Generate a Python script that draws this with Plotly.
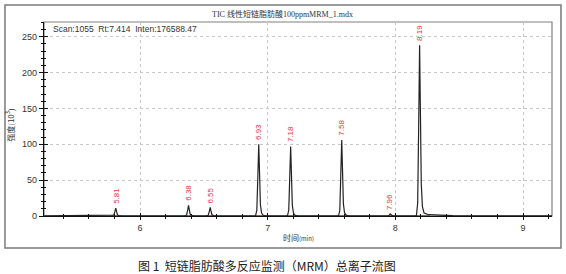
import plotly.graph_objects as go

# ---- data ----
time_min = [5.25,
            5.785, 5.795, 5.803, 5.81, 5.816, 5.823, 5.832, 5.845,
            6.355, 6.365, 6.373, 6.38, 6.386, 6.393, 6.402, 6.415,
            6.525, 6.535, 6.543, 6.55, 6.556, 6.563, 6.572, 6.585,
            6.905, 6.915, 6.923, 6.93, 6.936, 6.943, 6.952, 6.965, 6.98,
            7.155, 7.165, 7.173, 7.18, 7.186, 7.193, 7.202, 7.215, 7.23,
            7.555, 7.565, 7.573, 7.58, 7.586, 7.593, 7.602, 7.615, 7.63,
            7.945, 7.953, 7.96, 7.967, 7.978,
            8.165, 8.175, 8.183, 8.19, 8.196, 8.203, 8.212, 8.225, 8.26, 8.33, 8.45,
            9.23]
intensity = [0.3,
             0.3, 1.2, 6, 11, 6.5, 1.8, 0.6, 0.3,
             0.3, 1.5, 8, 15, 9, 2.5, 0.8, 0.3,
             0.3, 1.2, 6.5, 12, 7, 2, 0.6, 0.3,
             0.3, 8, 55, 100, 62, 16, 4, 1, 0.3,
             0.3, 8, 53, 97, 60, 15, 4, 1, 0.3,
             0.3, 8, 58, 106, 65, 17, 4.5, 1.2, 0.3,
             0.3, 1.5, 3, 1.6, 0.3,
             0.3, 18, 130, 238, 150, 45, 13, 4, 1.8, 1, 0.4,
             0.3]

peak_rt = [5.81, 6.38, 6.55, 6.93, 7.18, 7.58, 7.96, 8.19]
peak_height = [11, 15, 12, 100, 97, 106, 3, 238]
peak_label = ["5.81", "6.38", "6.55", "6.93", "7.18", "7.58", "7.96", "8.19"]
peak_start = [5.775, 6.345, 6.515, 6.895, 7.145, 7.545, 7.94, 8.155]
peak_end = [5.855, 6.425, 6.595, 6.99, 7.24, 7.64, 7.985, 8.27]

x_ticks = [6, 7, 8, 9]
y_ticks = [0, 50, 100, 150, 200, 250]
x_range = [5.248, 9.227]
y_range = [0, 270.5]

title_text = "TIC 线性短链脂肪酸100ppmMRM_1.mdx"
info_text = "Scan:1055  Rt:7.414  Inten:176588.47"
caption_text = "图 1  短链脂肪酸多反应监测（MRM）总离子流图"

RED = "#e8343c"

fig = go.Figure()

# integration baselines (red)
bx, by = [], []
for s, e in zip(peak_start, peak_end):
    bx += [s, e, None]
    by += [0.4, 0.4, None]
fig.add_trace(go.Scatter(x=bx, y=by, mode="lines",
                         line=dict(color=RED, width=1.3), hoverinfo="skip",
                         showlegend=False))

fig.add_trace(go.Scatter(x=time_min, y=intensity, mode="lines",
                         line=dict(color="#222222", width=1.2),
                         showlegend=False))

# invisible trace to anchor the overlay axes (inside ticks)
fig.add_trace(go.Scatter(x=[x_range[0]], y=[y_range[0]], xaxis="x2", yaxis="y2",
                         mode="markers", marker=dict(opacity=0), hoverinfo="skip",
                         showlegend=False))

for rt, h, lab in zip(peak_rt, peak_height, peak_label):
    fig.add_annotation(x=rt, y=h, text=lab, showarrow=False, textangle=-90,
                       xanchor="center", yanchor="bottom", yshift=2,
                       font=dict(family="Liberation Sans, Arial", size=8, color=RED))

axis_font = dict(family="Liberation Sans, Arial", size=9, color="#333333")

fig.update_layout(
    width=566, height=274,
    margin=dict(l=44, r=14, t=22, b=58),
    paper_bgcolor="white", plot_bgcolor="white",
    xaxis=dict(range=x_range, tickvals=x_ticks, showgrid=True, gridcolor="#c8c8c8",
               griddash="dot", gridwidth=1, zeroline=False, showline=True,
               linecolor="#111111", linewidth=1.3, ticks="outside", ticklen=3,
               tickcolor="#111111", tickfont=axis_font,
               minor=dict(dtick=0.2, tick0=6, ticks="outside", ticklen=2,
                          tickcolor="#111111", showgrid=False)),
    yaxis=dict(range=y_range, tickvals=y_ticks, showgrid=True, gridcolor="#c8c8c8",
               griddash="dot", gridwidth=1, zeroline=False, showline=True,
               linecolor="#111111", linewidth=1.3, ticks="outside", ticklen=4,
               tickcolor="#111111", tickfont=axis_font,
               minor=dict(dtick=10, tick0=0, ticks="outside", ticklen=2,
                          tickcolor="#111111", showgrid=False)),
    xaxis2=dict(range=x_range, overlaying="x", anchor="y", side="bottom",
                showgrid=False, zeroline=False, showticklabels=False,
                tickvals=x_ticks, ticks="inside", ticklen=3, tickcolor="#111111",
                minor=dict(dtick=0.2, tick0=6, ticks="inside", ticklen=2,
                           tickcolor="#111111")),
    yaxis2=dict(range=y_range, overlaying="y", anchor="x", side="left",
                showgrid=False, zeroline=False, showticklabels=False,
                tickvals=y_ticks, ticks="inside", ticklen=4, tickcolor="#111111",
                minor=dict(dtick=10, tick0=0, ticks="inside", ticklen=2,
                           tickcolor="#111111")),
)

# plot box (top/right gray) and outer frame
fig.add_shape(type="rect", xref="paper", yref="paper", x0=0, x1=1, y0=0, y1=1,
              line=dict(color="#808080", width=1.2), layer="below")
fig.add_shape(type="rect", xref="paper", yref="paper", x0=-0.0768, x1=1.0177,
              y0=-0.165, y1=1.0876, line=dict(color="#7a7a7a", width=1.5))

fig.add_annotation(xref="paper", yref="paper", x=0.47, y=1.041, text=title_text,
                   showarrow=False, xanchor="center", yanchor="middle",
                   font=dict(family="Liberation Serif, Noto Sans CJK SC", size=8,
                             color="#333333"))
fig.add_annotation(xref="paper", yref="paper", x=0.0138, y=0.964, text=info_text,
                   showarrow=False, xanchor="left", yanchor="middle",
                   font=dict(family="Liberation Sans, Arial", size=8.5, color="#333333"))
fig.add_annotation(xref="paper", yref="paper", x=-0.067, y=0.47,
                   text="强度(10<sup>3</sup>)", showarrow=False, textangle=-90,
                   xanchor="center", yanchor="middle",
                   font=dict(family="Noto Sans CJK SC", size=8, color="#333333"))
fig.add_annotation(xref="paper", yref="paper", x=0.5, y=-0.113,
                   text="时间<span style='font-size:6px'>(min)</span>", showarrow=False,
                   xanchor="center", yanchor="middle",
                   font=dict(family="Noto Sans CJK SC", size=8, color="#333333"))
fig.add_annotation(xref="paper", yref="paper", x=0.439, y=-0.2526, text=caption_text,
                   showarrow=False, xanchor="center", yanchor="middle",
                   font=dict(family="Noto Sans CJK SC", size=12, color="#222222"))

fig.write_html("out.html")
